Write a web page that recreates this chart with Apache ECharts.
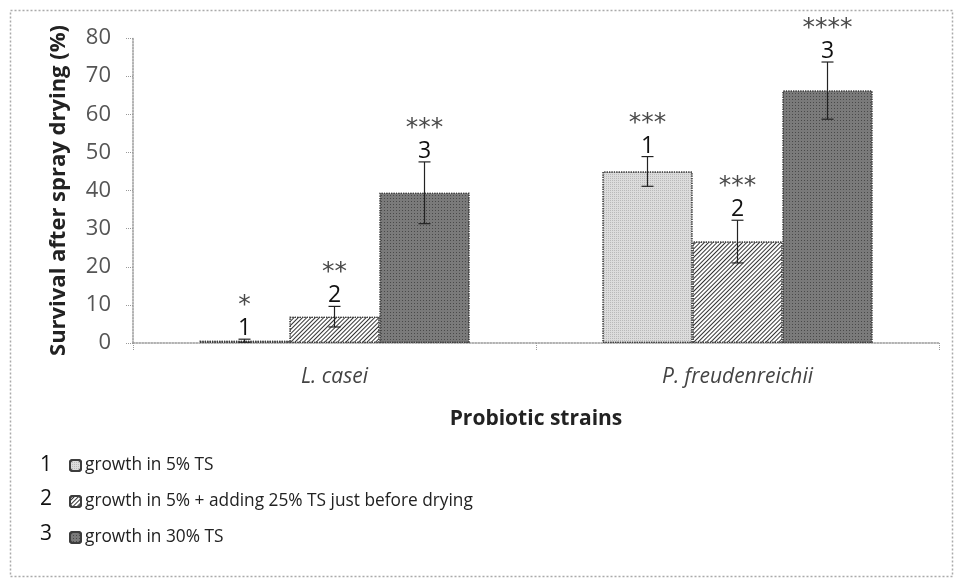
<!DOCTYPE html>
<html>
<head>
<meta charset="utf-8">
<script src="https://cdn.jsdelivr.net/npm/echarts@6/dist/echarts.min.js"></script>
<style>
  html, body { margin: 0; padding: 0; background: #fff; }
  #chart { width: 959px; height: 581px; }
</style>
</head>
<body>
<div id="chart"></div>
<script>
const strains = ['L. casei', 'P. freudenreichii']
const seriesNames = [
  'growth in 5% TS',
  'growth in 5% + adding 25% TS just before drying',
  'growth in 30% TS'
]
// survival (%) per treatment, one entry per strain
const survival5 = [0.6, 45.0]
const survivalAdded = [6.9, 26.6]
const survival30 = [39.4, 66.2]
// standard deviations
const sd5 = [0.4, 3.9]
const sdAdded = [2.7, 5.6]
const sd30 = [8.1, 7.5]
// significance stars
const stars5 = ['*', '***']
const starsAdded = ['**', '***']
const stars30 = ['***', '****']
const yTicks = [0, 10, 20, 30, 40, 50, 60, 70, 80]

const values = [survival5, survivalAdded, survival30]
const errors = [sd5, sdAdded, sd30]
const stars = [stars5, starsAdded, stars30]
const gapRatio = 0.33
const font = 'Open Sans, sans-serif'

const fills = [
  { color: '#dcdcdc', decal: { symbol: 'rect', symbolSize: 1, dashArrayX: [[1, 1]], dashArrayY: [1, 1], color: 'rgba(150,150,150,0.5)' } },
  { color: '#ffffff', decal: { symbol: 'rect', symbolSize: 1, dashArrayX: [[1, 0]], dashArrayY: [1, 2], rotation: -Math.PI / 4, color: '#333333' } },
  { color: '#7a7a7a', decal: { symbol: 'rect', symbolSize: 1, dashArrayX: [[1, 2]], dashArrayY: [1, 2], color: 'rgba(40,40,40,0.6)' } }
]

const chart = echarts.init(document.getElementById('chart'))

const barSeries = values.map((v, i) => ({
  name: seriesNames[i],
  type: 'bar',
  data: v,
  barGap: '0%',
  barCategoryGap: (gapRatio * 100) + '%',
  itemStyle: {
    color: fills[i].color,
    borderColor: '#3d3d3d',
    borderWidth: 1.2,
    borderType: 'dotted',
    decal: fills[i].decal
  },
  emphasis: { disabled: true }
}))

const errSeries = values.map((v, i) => ({
  type: 'custom',
  name: 'err' + i,
  data: v.map((val, k) => [k, val, errors[i][k], stars[i][k]]),
  z: 10,
  renderItem: (params, api) => {
    const k = api.value(0)
    const val = api.value(1)
    const sd = api.value(2)
    const bandW = api.size([1, 0])[0]
    const barW = bandW * (1 - gapRatio) / 3
    const dx = (i - 1) * barW
    const top = api.coord([k, val + sd])
    const bot = api.coord([k, Math.max(val - sd, 0)])
    const x = top[0] + dx
    const half = 6
    const st = { stroke: '#222', lineWidth: 1.2 }
    return {
      type: 'group',
      children: [
        { type: 'line', shape: { x1: x, y1: top[1], x2: x, y2: bot[1] }, style: st },
        { type: 'line', shape: { x1: x - half, y1: top[1], x2: x + half, y2: top[1] }, style: st },
        { type: 'line', shape: { x1: x - half, y1: bot[1], x2: x + half, y2: bot[1] }, style: st },
        { type: 'text', x: x, y: top[1] + 1, style: { text: String(i + 1), fontSize: 23, fontFamily: font, fill: '#111', align: 'center', verticalAlign: 'bottom' } },
        { type: 'text', x: x, y: top[1] - 21, style: { text: api.value(3), fontSize: 25, fontFamily: 'DejaVu Sans, sans-serif', fill: '#4a4a4a', align: 'center', verticalAlign: 'bottom' } }
      ]
    }
  }
}))

const option = {
  animation: false,
  backgroundColor: '#fff',
  grid: { left: 133, right: 20, top: 38, bottom: 238 },
  legend: {
    orient: 'vertical',
    left: 69,
    top: 456,
    padding: 0,
    itemWidth: 11,
    itemHeight: 11,
    itemGap: 17,
    selectedMode: false,
    data: seriesNames,
    textStyle: { fontSize: 17.3, lineHeight: 19, color: '#222', fontFamily: font, padding: [0, 0, 0, -1] }
  },
  xAxis: {
    type: 'category',
    data: strains,
    name: 'Probiotic strains',
    nameLocation: 'middle',
    nameGap: 66,
    nameTextStyle: { fontSize: 21, fontWeight: 'bold', color: '#222', fontFamily: font },
    axisLine: { lineStyle: { color: '#999', type: 'dotted', width: 1.5 } },
    axisTick: { show: true, length: 8, lineStyle: { color: '#999', type: 'dotted' } },
    axisLabel: { fontSize: 21, fontStyle: 'italic', color: '#444', margin: 24, fontFamily: font }
  },
  yAxis: {
    type: 'value',
    min: 0,
    max: 80,
    interval: 10,
    name: 'Survival after spray drying (%)',
    nameLocation: 'middle',
    nameGap: 63,
    nameTextStyle: { fontSize: 22, fontWeight: 'bold', color: '#222', fontFamily: font },
    splitLine: { show: false },
    axisLine: { show: true, lineStyle: { color: '#999', type: 'dotted', width: 1.5 } },
    axisTick: { show: true, length: 7, lineStyle: { color: '#999', type: 'dotted' } },
    axisLabel: {
      fontSize: 22,
      color: '#555',
      margin: 22,
      fontFamily: font,
      formatter: v => (yTicks.includes(v) ? String(v) : '')
    }
  },
  graphic: [
    { type: 'rect', left: 8, top: 8, shape: { width: 942, height: 566 }, style: { fill: 'none', stroke: '#aaa', lineWidth: 1.5, lineDash: [2, 2] }, silent: true },
    ...seriesNames.map((n, i) => ({
      type: 'text',
      x: 46,
      y: 465 + i * 34.5,
      style: { text: String(i + 1), fontSize: 21, fill: '#111', fontFamily: font, align: 'center', verticalAlign: 'middle' }
    }))
  ],
  series: [...barSeries, ...errSeries]
}

chart.setOption(option)
</script>
</body>
</html>
